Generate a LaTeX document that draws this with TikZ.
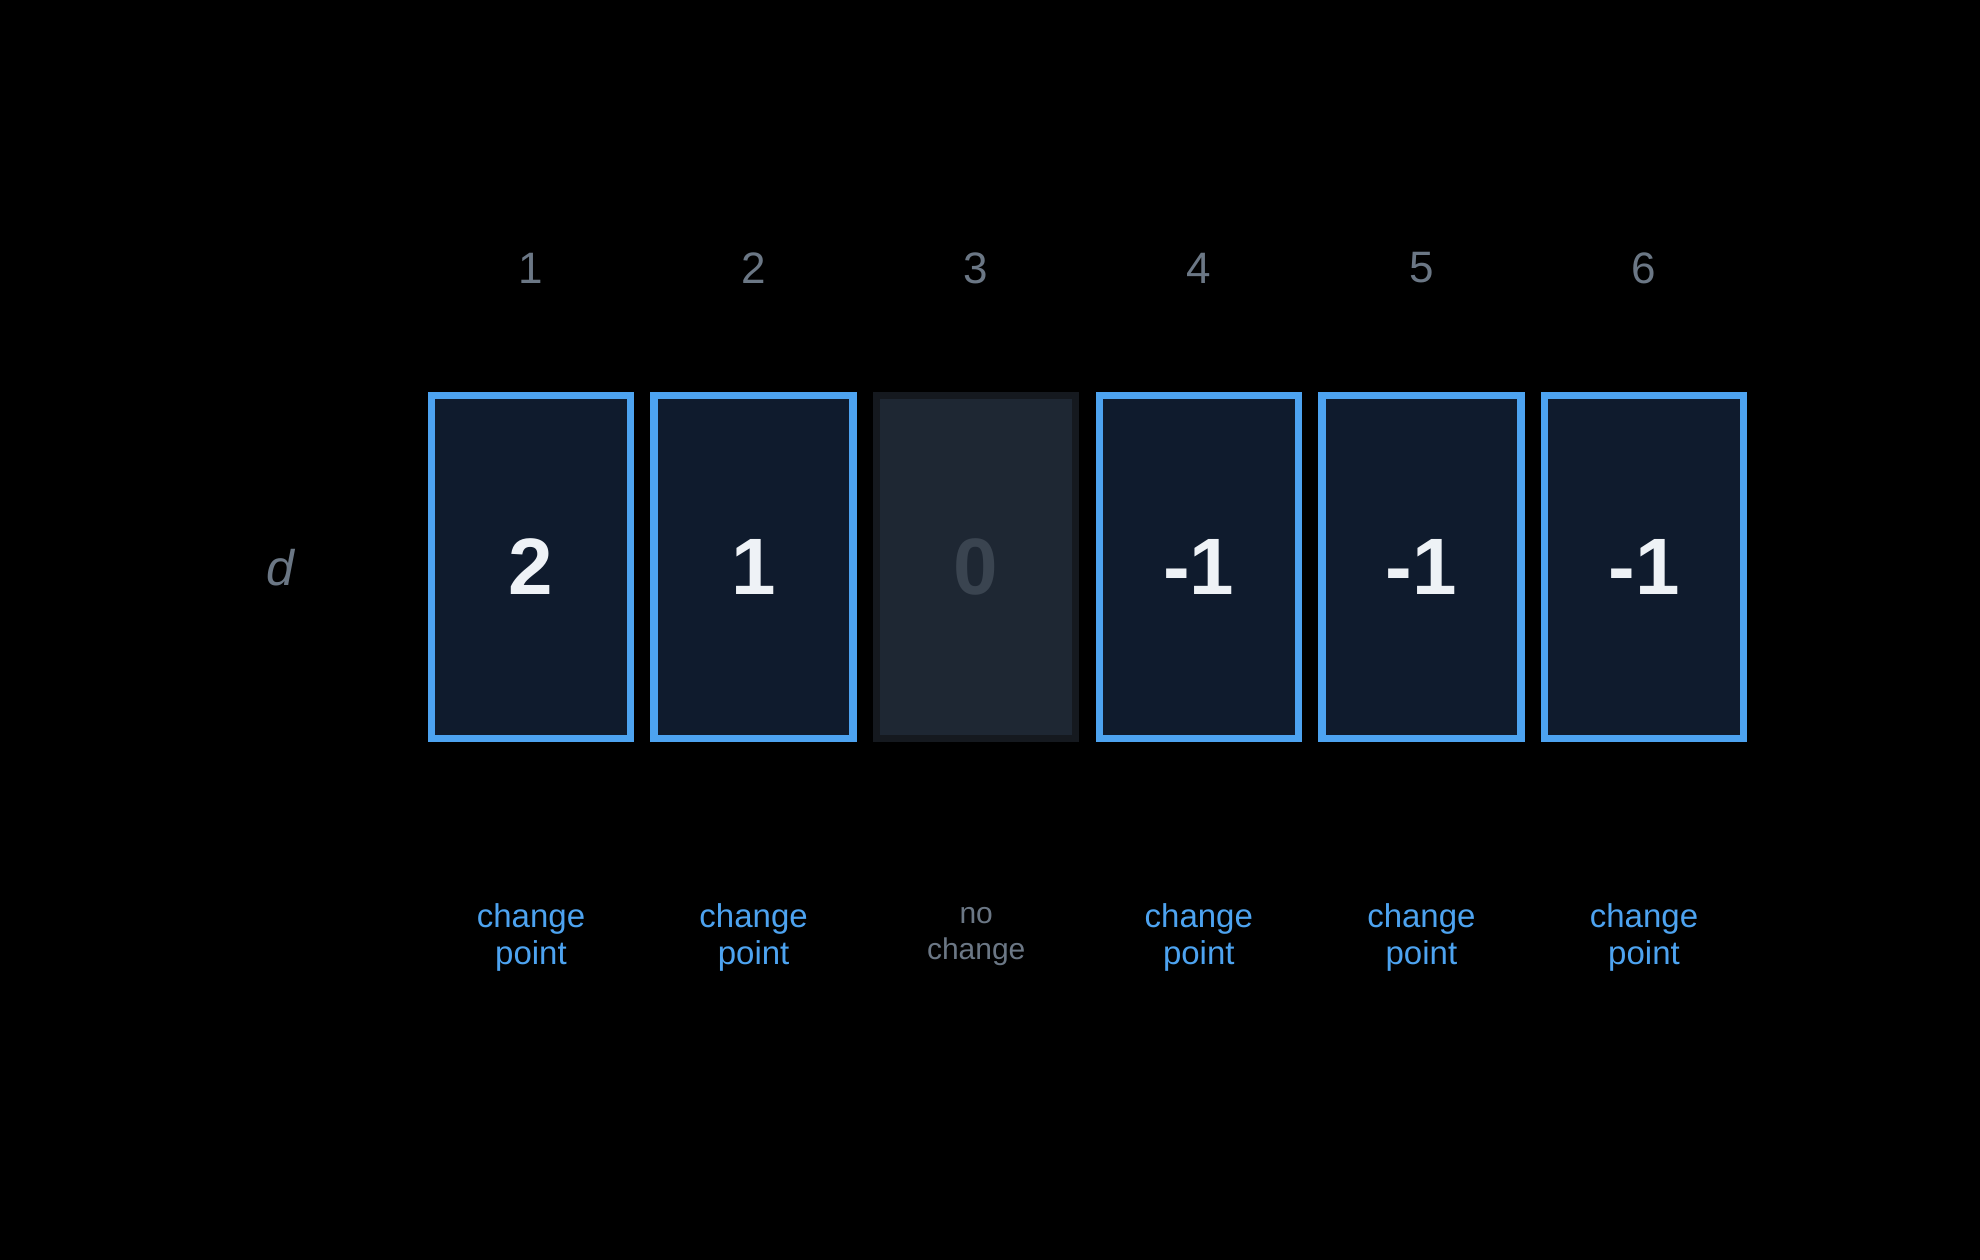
\documentclass[tikz,border=0pt]{standalone}
\usepackage{fontspec}
\setmainfont{Liberation Sans}
\definecolor{bluec}{HTML}{4DA3F0}
\definecolor{boxfill}{HTML}{0F1B2D}
\definecolor{greyfill}{HTML}{1E2733}
\definecolor{greyedge}{HTML}{15191F}
\definecolor{greynum}{HTML}{3A4450}
\definecolor{idxc}{HTML}{6B7785}
\definecolor{numc}{HTML}{EEF2F6}
\begin{document}
\begin{tikzpicture}[x=1pt,y=-1pt,
  cell/.style={draw=bluec,line width=7.5pt,fill=boxfill,minimum width=199pt,minimum height=343pt,inner sep=0pt,text=numc,font=\fontsize{80}{80}\selectfont\bfseries},
  offcell/.style={cell,draw=greyedge,fill=greyfill,text=greynum},
  idx/.style={text=idxc,font=\fontsize{44}{44}\selectfont},
  lab/.style={text=bluec,align=center,font=\fontsize{33}{37}\selectfont},
  offlab/.style={lab,text=idxc,font=\fontsize{30}{36}\selectfont}]
\fill[black] (0,0) rectangle (1980,1260);
\useasboundingbox (0,0) rectangle (1980,1260);
\node[text=idxc,font=\fontsize{50}{50}\selectfont\itshape] (d) at (280,568) {d};
\foreach \i/\v/\st/\l/\ls in {1/2/cell/change\\point/lab,2/1/cell/change\\point/lab,3/0/offcell/no\\change/offlab,4/-1/cell/change\\point/lab,5/-1/cell/change\\point/lab,6/-1/cell/change\\point/lab}{
  \pgfmathsetmacro{\cx}{531+222.6*(\i-1)}
  \node[\st] (c\i) at (\cx,567) {\v};
  \node[idx] (n\i) at (\cx,268) {\i};
  \node[\ls] (l\i) at (\cx,937) {\l};
}
\end{tikzpicture}
\end{document}
